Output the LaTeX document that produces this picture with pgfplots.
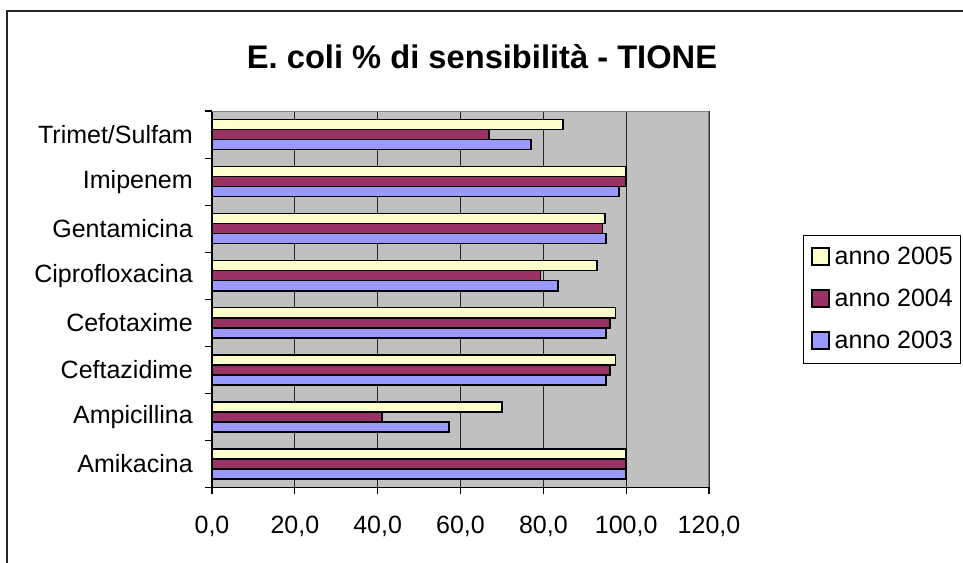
\documentclass[border=0pt]{standalone}
\usepackage{fontspec}
\setmainfont{Liberation Sans}
\usepackage{pgfplots}
\pgfplotsset{compat=1.18}
\usepackage{pgfplotstable}

\definecolor{bgplot}{HTML}{C0C0C0}
\definecolor{yA}{HTML}{FFFFCC}
\definecolor{yB}{HTML}{993366}
\definecolor{yC}{HTML}{9999FF}
\definecolor{frame}{HTML}{808080}

% sensitivity (%) per antibiotic, index 0 = Amikacina ... 7 = Trimet/Sulfam
\pgfplotstableread{
idx a2005 a2004 a2003
0   100.0 100.0 100.0
1   70.0  41.1  57.3
2   97.4  96.1  95.1
3   97.4  96.1  95.1
4   92.9  79.3  83.5
5   94.8  94.3  95.1
6   100.0 100.0 98.3
7   84.7  66.8  77.1
}\sens

\newcommand{\lblfont}{\fontsize{18.75}{22}\selectfont}

\begin{document}
\begin{tikzpicture}
\useasboundingbox (0,0) rectangle (722.25pt,422.25pt);
\draw[line width=1.1pt, black!85] (5.25pt,-30pt) rectangle (760pt,414pt);
\node[font=\fontsize{24.5}{27}\selectfont\bfseries] at (361.5pt,380pt)
  {E. coli \% di sensibilità - TIONE};

\begin{axis}[
  at={(159pt,56.8pt)}, anchor=south west,
  scale only axis, width=372.75pt, height=282.2pt,
  xbar, bar width=0.213,
  xmin=0, xmax=120, ymin=-0.5, ymax=7.5,
  axis background/.style={fill=bgplot},
  axis x line*=bottom, axis y line*=left,
  axis line style={-, black, line width=0.9pt},
  tick align=outside, major tick length=5.25pt,
  tick style={black, line width=0.8pt},
  xtick={0,20,...,120},
  xmajorgrids, grid style={black!85, line width=0.75pt},
  ytick={-0.5,0.5,...,7.5}, yticklabels={},
  extra y ticks={0,1,2,3,4,5,6,7},
  extra y tick labels={Amikacina,Ampicillina,Ceftazidime,Cefotaxime,Ciprofloxacina,Gentamicina,Imipenem,Trimet/Sulfam},
  extra y tick style={tick style={draw=none}},
  yticklabel style={font=\lblfont, inner sep=0pt, xshift=-9pt},
  xticklabel style={font=\lblfont, inner sep=0pt, yshift=-16pt},
  /pgf/number format/.cd, fixed, fixed zerofill, precision=1, use comma, assume math mode=true,
  /pgfplots/.cd,
  legend style={at={(1.189,0.6705)}, anchor=north west, draw=black, fill=white,
    line width=0.75pt, font=\lblfont, inner xsep=6pt, inner ysep=7.5pt,
    row sep=13.5pt,
    nodes={inner sep=0pt, text height=14pt, text depth=4pt},
    /tikz/every odd column/.append style={column sep=3.75pt}},
  legend cell align=left,
  legend image code/.code={\draw[#1, line width=0.9pt] (0pt,-5.6pt) rectangle (12.75pt,7.1pt);},
]
\addplot[fill=yA, draw=black, line width=1.3pt, bar shift=0.213] table[x=a2005, y=idx] {\sens};
\addplot[fill=yB, draw=black, line width=1.3pt, bar shift=0] table[x=a2004, y=idx] {\sens};
\addplot[fill=yC, draw=black, line width=1.3pt, bar shift=-0.213] table[x=a2003, y=idx] {\sens};
\legend{anno 2005, anno 2004, anno 2003}
\draw[frame, line width=1.2pt] (rel axis cs:0,1) -- (rel axis cs:1,1) -- (rel axis cs:1,0);
\end{axis}
\end{tikzpicture}
\end{document}
